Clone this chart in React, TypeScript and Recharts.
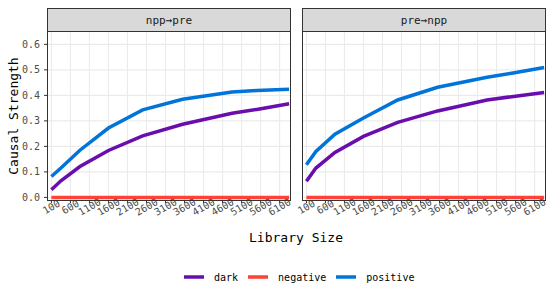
import React from "react"
import { LineChart, Line, XAxis, YAxis, CartesianGrid } from "recharts"

// library sizes where the curves bend
const librarySizes = [100, 350, 850, 1600, 2500, 3550, 4850, 5500, 6350]
const xTicks = [100, 600, 1100, 1600, 2100, 2600, 3100, 3600, 4100, 4600, 5100, 5600, 6100]
const yTicks = [0, 0.1, 0.2, 0.3, 0.4, 0.5, 0.6]

// npp -> pre
const nppPreDark = [0.03, 0.065, 0.121, 0.184, 0.241, 0.287, 0.33, 0.345, 0.367]
const nppPreNegative = [0, 0, 0, 0, 0, 0, 0, 0, 0]
const nppPrePositive = [0.082, 0.115, 0.185, 0.272, 0.343, 0.385, 0.413, 0.419, 0.424]

// pre -> npp
const preNppDark = [0.063, 0.115, 0.176, 0.239, 0.294, 0.339, 0.382, 0.395, 0.411]
const preNppNegative = [0, 0, 0, 0, 0, 0, 0, 0, 0]
const preNppPositive = [0.128, 0.18, 0.248, 0.311, 0.382, 0.432, 0.471, 0.487, 0.509]

const series = [
    { key: "dark", color: "#6a0dad" },
    { key: "negative", color: "#ff4136" },
    { key: "positive", color: "#0074d9" },
]

const FONT = "'DejaVu Sans Mono', monospace"

const build = (dark: number[], neg: number[], pos: number[]) =>
    librarySizes.map((lib, i) => ({ lib, dark: dark[i], negative: neg[i], positive: pos[i] }))

const XTick = (props: any) => {
    const { x, y, payload } = props
    return (
        <g transform={`translate(${x},${y})`}>
            <text
                transform="rotate(-30)"
                textAnchor="middle"
                dominantBaseline="central"
                fontSize={10}
                fontFamily={FONT}
                fill="#4d4d4d"
            >
                {payload.value}
            </text>
        </g>
    )
}

function Panel({ data, title, left, withY }: { data: any[]; title: string; left: number; withY: boolean }) {
    const padLeft = withY ? 0 : 12
    const padRight = 8
    const yWidth = withY ? 47 : 0
    const plotLeft = left + padLeft + yWidth
    return (
        <>
            <div style={{ position: "absolute", left, top: 0 }}>
                <LineChart
                    width={padLeft + yWidth + 244 + padRight}
                    height={240}
                    data={data}
                    margin={{ top: 31, right: padRight, bottom: 8, left: padLeft }}
                >
                    <CartesianGrid stroke="#ebebeb" strokeWidth={1.1} horizontalValues={yTicks} verticalValues={xTicks} />
                    <XAxis
                        dataKey="lib"
                        type="number"
                        domain={[-16, 6400]}
                        ticks={xTicks}
                        interval={0}
                        height={32}
                        axisLine={false}
                        tickSize={3}
                        tickMargin={4}
                        tickLine={{ stroke: "#333333" }}
                        tick={<XTick />}
                    />
                    <YAxis
                        hide={!withY}
                        width={yWidth}
                        type="number"
                        domain={[-0.0102, 0.6524]}
                        ticks={yTicks}
                        allowDataOverflow
                        axisLine={false}
                        tickSize={3}
                        tickMargin={4}
                        tickLine={{ stroke: "#333333" }}
                        tickFormatter={(v: number) => v.toFixed(1)}
                        tick={{ fontSize: 10, fontFamily: FONT, fill: "#4d4d4d" }}
                    />
                    {series.map(s => (
                        <Line
                            key={s.key}
                            type="linear"
                            dataKey={s.key}
                            stroke={s.color}
                            strokeWidth={3.5}
                            strokeLinecap="butt"
                            dot={false}
                            activeDot={false}
                            isAnimationActive={false}
                        />
                    ))}
                </LineChart>
            </div>
            {/* panel border */}
            <div
                style={{
                    position: "absolute",
                    left: plotLeft,
                    top: 31,
                    width: 244,
                    height: 170,
                    border: "1px solid #333333",
                    boxSizing: "border-box",
                    pointerEvents: "none",
                }}
            />
            {/* facet strip */}
            <div
                style={{
                    position: "absolute",
                    left: plotLeft,
                    top: 8,
                    width: 244,
                    height: 24,
                    background: "#d9d9d9",
                    border: "1px solid #333333",
                    boxSizing: "border-box",
                    display: "flex",
                    alignItems: "center",
                    justifyContent: "center",
                    fontFamily: FONT,
                    fontSize: 11,
                    color: "#1a1a1a",
                }}
            >
                {title}
            </div>
        </>
    )
}

export default function App() {
    return (
        <div style={{ position: "fixed", left: 0, top: 0, width: 555, height: 305, background: "#fff", fontFamily: FONT }}>
            <Panel data={build(nppPreDark, nppPreNegative, nppPrePositive)} title="npp→pre" left={0} withY />
            <Panel data={build(preNppDark, preNppNegative, preNppPositive)} title="pre→npp" left={290} withY={false} />

            <div
                style={{
                    position: "absolute",
                    left: 13,
                    top: 116,
                    transform: "translate(-50%, -50%) rotate(-90deg)",
                    whiteSpace: "nowrap",
                    fontSize: 13,
                    color: "#000",
                }}
            >
                Causal Strength
            </div>
            <div
                style={{
                    position: "absolute",
                    left: 296,
                    top: 237,
                    transform: "translate(-50%, -50%)",
                    whiteSpace: "nowrap",
                    fontSize: 13,
                    color: "#000",
                }}
            >
                Library Size
            </div>

            <div style={{ position: "absolute", left: 184, top: 270, height: 14, display: "flex", alignItems: "center", fontSize: 10, color: "#000" }}>
                {series.map((s, i) => (
                    <div key={s.key} style={{ display: "flex", alignItems: "center", marginLeft: i === 0 ? 0 : 10 }}>
                        <svg width={20} height={8}>
                            <line x1={0} x2={20} y1={4} y2={4} stroke={s.color} strokeWidth={3.5} />
                        </svg>
                        <span style={{ marginLeft: 10 }}>{s.key}</span>
                    </div>
                ))}
            </div>
        </div>
    )
}
